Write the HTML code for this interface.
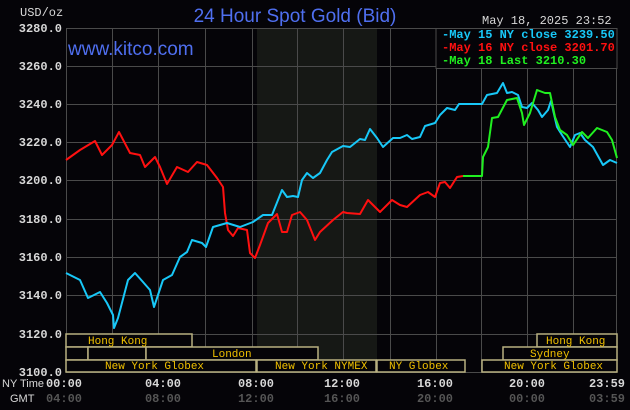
<!DOCTYPE html>
<html><head><meta charset="utf-8"><style>
html,body{margin:0;padding:0;background:#050408;}
svg{display:block}
</style></head><body>
<svg width="630" height="410" viewBox="0 0 630 410" xmlns="http://www.w3.org/2000/svg">
<rect width="630" height="410" fill="#050408"/>
<rect x="257" y="28" width="120" height="344" fill="#161815"/>
<g stroke="#4a4a4a" stroke-width="1" fill="none">
<path d="M66.5 28V372M112.5 28V372M158.5 28V372M205.5 28V372M252.5 28V372M297.5 28V372M343.5 28V372M390.5 28V372M436.5 28V372M481.5 28V372M527.5 28V372M573.5 28V372M616.5 28V372"/>
<path d="M66 28.5H617M66 66.5H617M66 104.5H617M66 142.5H617M66 180.5H617M66 219.5H617M66 257.5H617M66 295.5H617M66 334.5H617M66 372.5H617"/>
</g>
<g font-family="Liberation Mono, monospace" font-size="12" font-weight="bold" fill="#d8d8d8" text-anchor="end">
<text x="62" y="32">3280.0</text><text x="62" y="70">3260.0</text><text x="62" y="108">3240.0</text><text x="62" y="146">3220.0</text><text x="62" y="184">3200.0</text><text x="62" y="223">3180.0</text><text x="62" y="261">3160.0</text><text x="62" y="299">3140.0</text><text x="62" y="338">3120.0</text><text x="62" y="376">3100.0</text>
</g>
<text x="20" y="16" font-family="Liberation Mono, monospace" font-size="12" fill="#d8d8d8">USD/oz</text>
<text x="295" y="22" font-family="Liberation Sans, sans-serif" font-size="19" fill="#4f6ff0" text-anchor="middle">24 Hour Spot Gold (Bid)</text>
<text x="482" y="24" font-family="Liberation Mono, monospace" font-size="12" fill="#d8d8d8">May 18, 2025 23:52</text>
<text x="68" y="55" font-family="Liberation Sans, sans-serif" font-size="19" fill="#4f6ff0">www.kitco.com</text>
<rect x="436" y="28.5" width="181" height="40" fill="#050408" stroke="#4a4a4a"/>
<g font-family="Liberation Mono, monospace" font-size="12" font-weight="bold">
<text x="442" y="38" fill="#18c8f8">-May 15 NY close 3239.50</text>
<text x="442" y="51" fill="#ff1010">-May 16 NY close 3201.70</text>
<text x="442" y="64" fill="#20f020">-May 18 Last 3210.30</text>
</g>
<g fill="none" stroke-width="2" stroke-linejoin="round">
<polyline stroke="#ff1010" points="66,160 80,150 95,141 102,155 112,145 119,132 130,153 140,155 145,167 155,157 160,167 167,184 177,167 188,172 197,162 207,165 217,178 223,187 225,213 228,230 233,236 238,228 247,230 250,253 255,258 260,245 268,223 277,214 282,232 287,232 292,215 300,212 307,220 315,240 320,232 333,220 343,212 347,213 360,214 368,200 380,212 392,200 400,205 407,207 420,195 428,192 435,197 440,183 445,182 450,188 457,177 463,176"/>
<polyline stroke="#18c8f8" points="66,273 80,280 88,298 100,292 107,303 113,315 114,328 118,318 128,280 135,273 143,282 150,290 154,307 159,292 163,280 172,275 180,257 187,252 192,240 202,243 206,247 213,227 227,223 240,227 253,222 263,215 272,215 282,190 287,197 293,196 298,197 302,180 307,173 313,178 320,173 327,160 332,152 343,146 350,147 360,139 365,140 370,129 377,138 383,147 393,138 400,138 407,135 412,139 420,137 425,126 435,123 440,115 447,108 455,110 459,104 482,104 487,95 497,93 503,83 507,93 512,92 518,95 522,107 527,108 532,103 538,110 542,117 548,110 551,101 557,127 562,135 570,147 575,135 580,133 585,140 593,147 603,165 610,160 617,163"/>
<polyline stroke="#20f020" points="463,176 482,176 483,157 488,147 492,118 498,117 507,100 517,98 522,113 524,125 530,113 537,90 545,93 550,93 555,117 560,130 567,135 573,145 582,132 588,138 597,128 607,132 612,140 617,158"/>
</g>
<g fill="#050408" stroke="#b8b080" stroke-width="1.5">
<rect x="66" y="334" width="126" height="13"/>
<rect x="537" y="334" width="80" height="13"/>
<rect x="66" y="347" width="22" height="13"/>
<rect x="88" y="347" width="58" height="13"/>
<rect x="146" y="347" width="172" height="13"/>
<rect x="503" y="347" width="114" height="13"/>
<rect x="66" y="360" width="190" height="12"/>
<rect x="257" y="360" width="119" height="12"/>
<rect x="377" y="360" width="88" height="12"/>
<rect x="482" y="360" width="135" height="12"/>
</g>
<g font-family="Liberation Mono, monospace" font-size="11" fill="#f0c000">
<text x="88" y="344">Hong Kong</text>
<text x="546" y="344">Hong Kong</text>
<text x="212" y="357">London</text>
<text x="530" y="357">Sydney</text>
<text x="105" y="369">New York Globex</text>
<text x="275" y="369">New York NYMEX</text>
<text x="389" y="369">NY Globex</text>
<text x="504" y="369">New York Globex</text>
</g>
<g font-family="Liberation Mono, monospace" font-size="12" font-weight="bold" fill="#d8d8d8" text-anchor="middle">
<text x="64" y="387">00:00</text><text x="163" y="387">04:00</text><text x="256" y="387">08:00</text><text x="342" y="387">12:00</text><text x="435" y="387">16:00</text><text x="527" y="387">20:00</text><text x="607" y="387">23:59</text>
</g>
<g font-family="Liberation Mono, monospace" font-size="12" font-weight="bold" fill="#555" text-anchor="middle">
<text x="64" y="402">04:00</text><text x="163" y="402">08:00</text><text x="256" y="402">12:00</text><text x="342" y="402">16:00</text><text x="435" y="402">20:00</text><text x="527" y="402">00:00</text><text x="607" y="402">03:59</text>
</g>
<text x="2" y="387" font-family="Liberation Sans, sans-serif" font-size="11" fill="#d8d8d8">NY Time</text>
<text x="10" y="402" font-family="Liberation Sans, sans-serif" font-size="11" fill="#d8d8d8">GMT</text>
</svg>
</body></html>
